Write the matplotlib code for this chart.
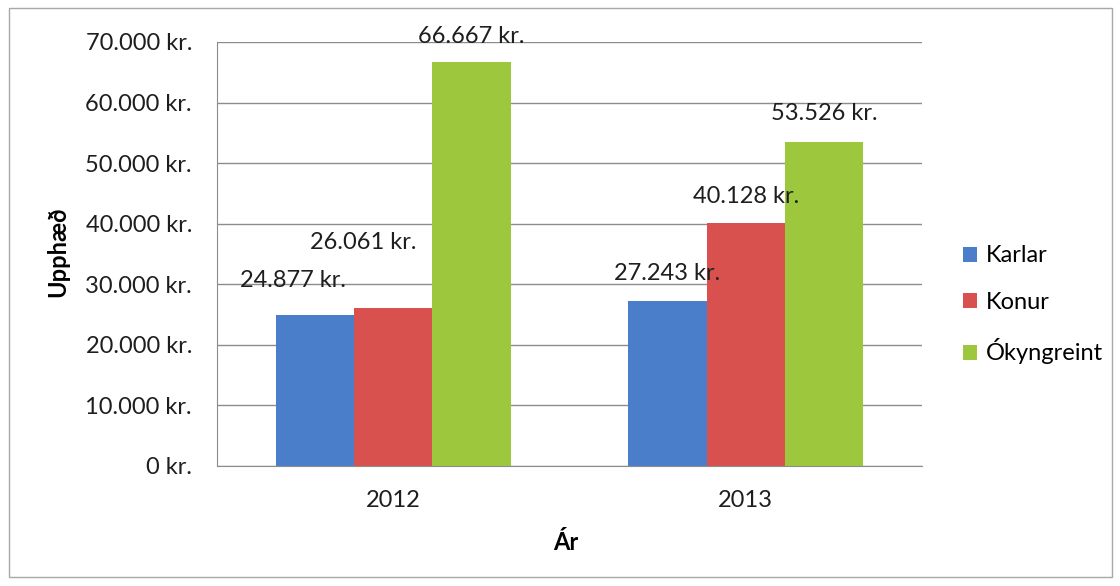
import matplotlib
matplotlib.use("Agg")
import matplotlib.pyplot as plt
import matplotlib.patches as mpatches
import numpy as np

plt.rcParams['font.family'] = ['Lato', 'DejaVu Sans']

# data
years = ["2012", "2013"]
series = ["Karlar", "Konur", "Ókyngreint"]
karlar = [24877, 27243]
konur = [26061, 40128]
okyngreint = [66667, 53526]
yticks = [0, 10000, 20000, 30000, 40000, 50000, 60000, 70000]

colors = ["#4A7ECA", "#D9514F", "#9DC73C"]
# label offsets in pixels (some labels were dragged by hand in the original)
offsets = [[(-22, 35), (0, 27)],
           [(-30, 66), (0, 26)],
           [(0, 26), (0, 28)]]
FS = 17


def kr(v):
    if v == 0:
        return "0 kr."
    return "{:,}".format(int(v)).replace(",", ".") + " kr."


W, H = 1120, 586
fig = plt.figure(figsize=(W / 100, H / 100), dpi=100)
ax = fig.add_axes([217 / W, 1 - 466 / H, (922 - 217) / W, (466 - 42) / H])

x = np.arange(len(years))
w = 1 / 4.5
data = [karlar, konur, okyngreint]
for i, (name, vals) in enumerate(zip(series, data)):
    pos = x + (i - 1) * w
    ax.bar(pos, vals, width=w, color=colors[i], label=name, zorder=2)
    for j, v in enumerate(vals):
        dx, dy = offsets[i][j]
        ax.annotate(kr(v), (pos[j], v), xytext=(dx, dy), textcoords="offset pixels",
                    ha="center", va="center", fontsize=FS, color="#1e1e1e", zorder=3)

ax.set_xlim(-0.5, 1.5)
ax.set_ylim(0, 70000)
ax.set_yticks(yticks)
ax.set_yticklabels([kr(v) for v in yticks], fontsize=FS, color="#1e1e1e")
ax.set_xticks(x)
ax.set_xticklabels(years, fontsize=FS, color="#1e1e1e")
ax.grid(axis="y", color="#8c8c8c", linewidth=1, zorder=0)
ax.tick_params(axis="y", length=0, pad=18)
ax.tick_params(axis="x", length=0, pad=17)
for s in ["top", "right"]:
    ax.spines[s].set_visible(False)
ax.spines["left"].set_color("#8c8c8c")
ax.spines["bottom"].set_color("#8c8c8c")

ax.set_ylabel("Upphæð", fontsize=FS, fontweight="bold", va="center")
ax.yaxis.set_label_coords((58 - 217) / 705, (466 - 252) / 424)
ax.set_xlabel("Ár", fontsize=FS, fontweight="bold", va="center")
ax.xaxis.set_label_coords((566 - 217) / 705, -(542 - 466) / 424)

fig.legend(loc="center left", bbox_to_anchor=(963 / W, 1 - 305 / H), frameon=False,
           fontsize=FS, handlelength=0.6, handleheight=0.6, handletextpad=0.38,
           labelspacing=1.08, borderpad=0, borderaxespad=0)

border = mpatches.Rectangle((9 / W, 9 / H), 1 - 17 / W, 1 - 17 / H,
                            transform=fig.transFigure, fill=False,
                            edgecolor="#a8a8a8", linewidth=1)
fig.patches.append(border)

fig.savefig("out.png", dpi=100)
